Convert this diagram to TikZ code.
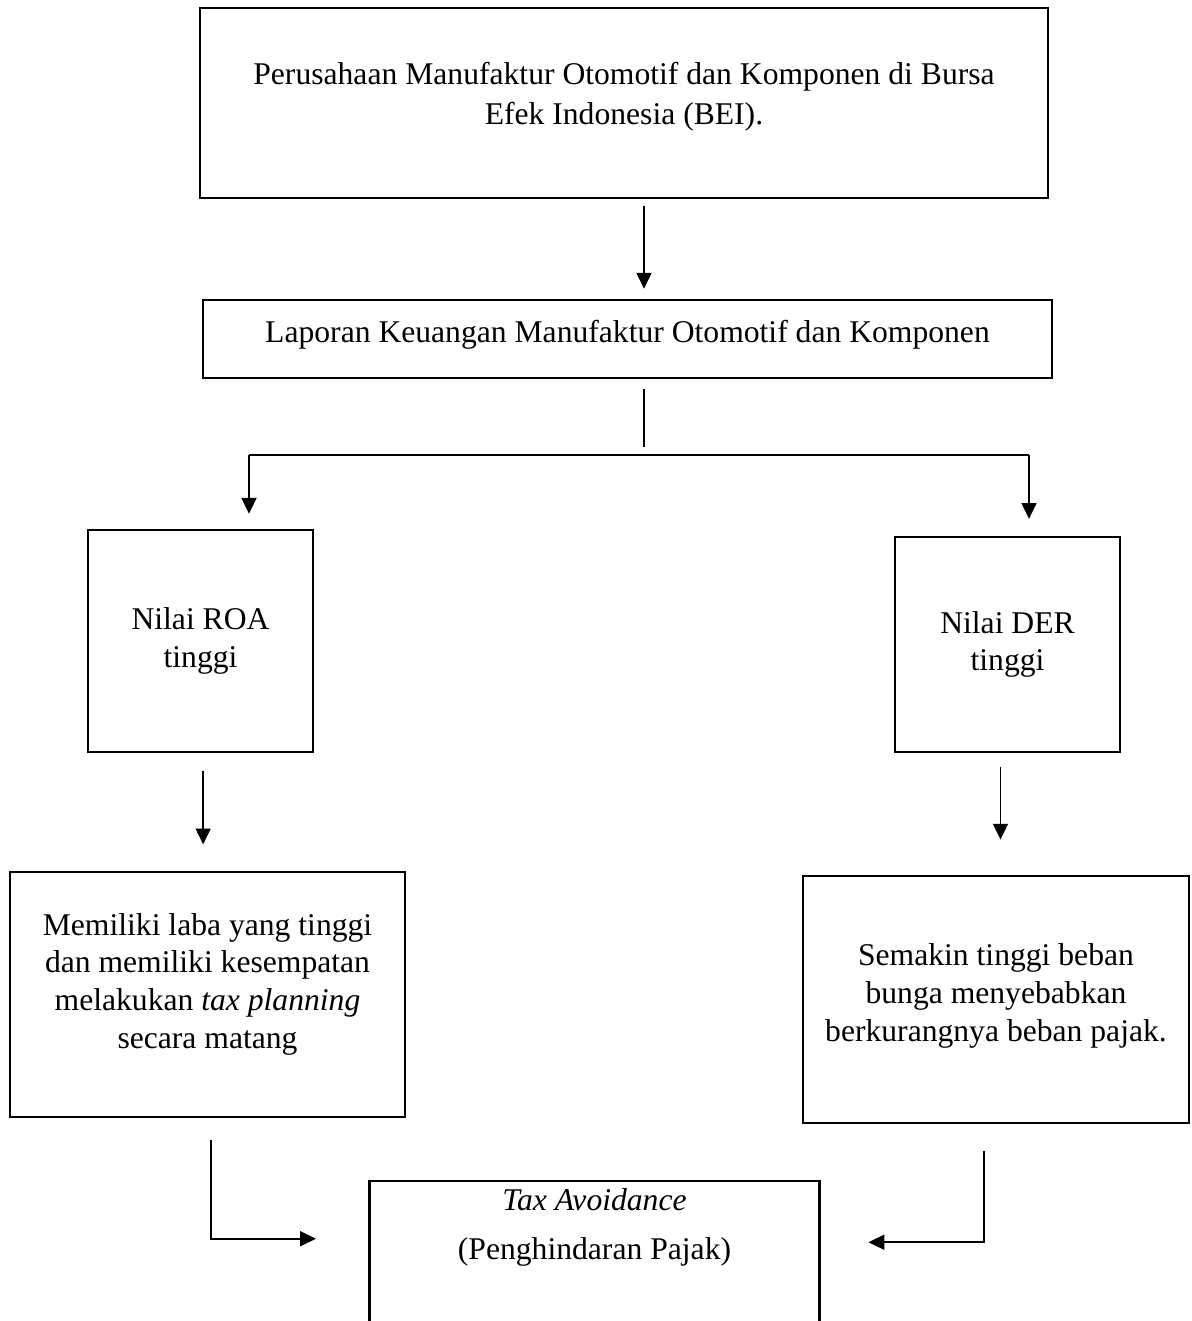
\documentclass[tikz,border=0pt]{standalone}
\usepackage{fontspec}
\setmainfont{Liberation Serif}
\usetikzlibrary{arrows.meta}
\tikzset{
	kotak/.style={draw, line width=1.5pt, inner sep=0pt, align=center, font=\fontsize{18}{21.5}\selectfont},
	panah/.style={-{Triangle[length=9pt,width=8.5pt]}, line width=1pt},
	garis/.style={line width=1pt}
}
\begin{document}
\begin{tikzpicture}[x=0.02cm, y=-0.02cm]
			\useasboundingbox (0,0) rectangle (1191,1321);
			\node [kotak, minimum width=16.96cm, minimum height=3.8cm] (bei) at (624,103) {Perusahaan Manufaktur Otomotif dan Komponen di Bursa\\[1.2pt]Efek Indonesia (BEI).\\[-11pt]\mbox{}};
			\node [kotak, minimum width=16.98cm, minimum height=1.56cm] (lapkeu) at (627.5,339) {Laporan Keuangan Manufaktur Otomotif dan Komponen\\[-12.5pt]\mbox{}};
			\node [kotak, minimum width=4.5cm, minimum height=4.44cm] (roa) at (200.5,641) {Nilai ROA\\tinggi};
			\node [kotak, minimum width=4.5cm, minimum height=4.3cm] (der) at (1007.5,644.5) {Nilai DER\\tinggi};
			\node [kotak, minimum width=7.9cm, minimum height=4.9cm] (laba) at (207.5,994.5) {Memiliki laba yang tinggi\\dan memiliki kesempatan\\melakukan \textit{tax planning}\\secara matang\\[-6pt]\mbox{}};
			\node [kotak, minimum width=7.72cm, minimum height=4.94cm] (bunga) at (996,999.5) {Semakin tinggi beban\\bunga menyebabkan\\berkurangnya beban pajak.\\[-13.5pt]\mbox{}};
			\node [kotak, draw=none, anchor=north, minimum width=8.94cm, minimum height=1.8cm] (tax) at (594.5,1181) {\textit{Tax Avoidance}\\[6pt](Penghindaran Pajak)};
			\coordinate (alas) at (0,1321);
			\draw [line width=1.5pt] (tax.north west |- alas) -- (tax.north west) -- (tax.north east) -- (tax.north east |- alas);
			% percabangan
			\coordinate (cabang) at (644,455);
			\coordinate (kiri) at (249,455);
			\coordinate (kanan) at (1029,455);
			\draw [panah, shorten <=4pt, shorten >=5.7pt] (bei.south -| cabang) -- (lapkeu.north -| cabang);
			\draw [garis, shorten <=5.7pt, shorten >=4.5pt] (lapkeu.south -| cabang) -- (cabang);
			\draw [garis] (kiri) -- (kanan);
			\draw [panah, shorten >=8.5pt] (kiri) -- (kiri |- roa.north);
			\draw [panah, shorten >=9.6pt] (kanan) -- (kanan |- der.north);
			\draw [panah, shorten <=10pt, shorten >=15pt] ([xshift=1.5pt]roa.south) -- ([xshift=1.5pt]roa.south |- laba.north);
			\draw [panah, shorten <=8pt, shorten >=20pt] ([xshift=-4pt]der.south) -- ([xshift=-4pt]der.south |- bunga.north);
			\draw [panah, shorten <=12.5pt, shorten >=30.6pt] ([xshift=2pt]laba.south) |- ([yshift=-6.5pt]tax.west);
			\draw [panah, shorten <=15pt, shorten >=28pt] ([xshift=-7pt]bunga.south) |- ([yshift=-8.5pt]tax.east);
		\end{tikzpicture}
\end{document}
